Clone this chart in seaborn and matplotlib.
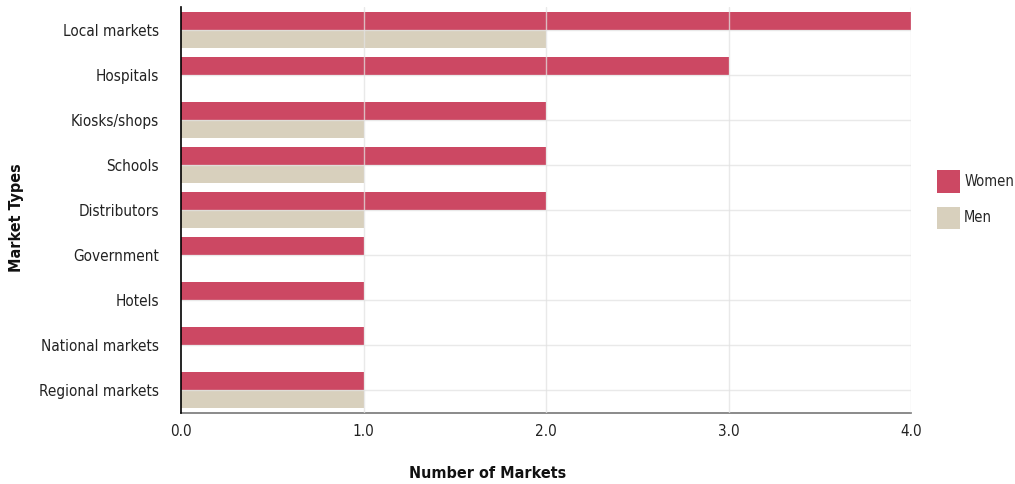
import matplotlib
matplotlib.use("Agg")
import matplotlib.pyplot as plt
import matplotlib.patches as mpatches
import seaborn as sns
import pandas as pd

categories = ["Local markets", "Hospitals", "Kiosks/shops", "Schools", "Distributors",
              "Government", "Hotels", "National markets", "Regional markets"]
women = [4, 3, 2, 2, 2, 1, 1, 1, 1]
men = [2, 0, 1, 1, 1, 0, 0, 0, 1]
groups = ["Women", "Men"]
colors = ["#cc4863", "#d8d0bd"]
xticks = [0, 1, 2, 3, 4]

df = pd.DataFrame({
    "Market": categories * 2,
    "Group": [groups[0]] * len(categories) + [groups[1]] * len(categories),
    "Count": women + men,
})

sns.set_theme(style="white")
plt.rcParams["font.family"] = ["DejaVu Sans"]
plt.rcParams["font.stretch"] = "condensed"

fig = plt.figure(figsize=(10.15, 4.84), dpi=100)
ax = fig.add_axes([181 / 1015, 1 - 413 / 484, 730 / 1015, 406 / 484])

sns.barplot(data=df, y="Market", x="Count", hue="Group", order=categories,
            hue_order=groups, palette=colors, width=0.8, saturation=1,
            orient="h", ax=ax, legend=False, linewidth=0, zorder=3)

ax.set_xlim(0, 4)
ax.set_xticks(xticks)
ax.set_xticklabels([f"{v:.1f}" for v in xticks], fontsize=11, color="#222222")
ax.tick_params(axis="y", labelsize=11, labelcolor="#222222", length=0, pad=16)
ax.tick_params(axis="x", length=0, pad=8)

# grid lines sit above the bars, faintly showing through
for v in xticks[1:]:
    ax.axvline(v, color="#e2e2e2", linewidth=1, alpha=0.75, zorder=4)
for i in range(len(categories)):
    ax.axhline(i, color="#e2e2e2", linewidth=1, alpha=0.75, zorder=4)

for side in ["top", "right"]:
    ax.spines[side].set_visible(False)
ax.spines["left"].set_color("#000000")
ax.spines["left"].set_linewidth(1.2)
ax.spines["left"].set_zorder(5)
ax.spines["bottom"].set_color("#777777")
ax.spines["bottom"].set_linewidth(1.2)

ax.set_xlabel("")
ax.set_ylabel("")
fig.text(488 / 1015, 1 - 474 / 484, "Number of Markets", ha="center", va="center",
         fontsize=11.5, fontweight="bold", color="#111111")
fig.text(17 / 1015, 1 - 218 / 484, "Market Types", ha="center", va="center",
         rotation=90, fontsize=11.5, fontweight="bold", color="#111111")

handles = [mpatches.Patch(facecolor=c, edgecolor="none", label=g) for g, c in zip(groups, colors)]
fig.legend(handles=handles, loc="upper left", bbox_to_anchor=(924 / 1015, 1 - 157 / 484),
           frameon=False, fontsize=10.5, handlelength=1.55, handleheight=2.0,
           labelspacing=0.95, handletextpad=0.3)

fig.savefig("out.png", dpi=100)
